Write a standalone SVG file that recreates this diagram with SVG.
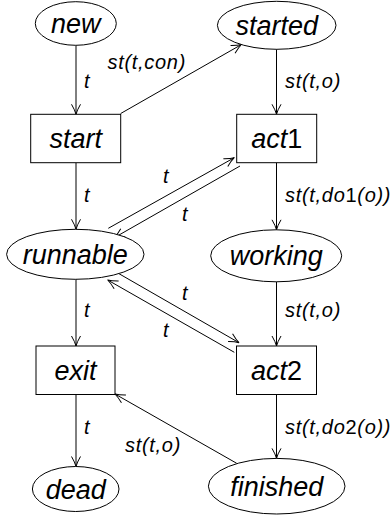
<svg xmlns="http://www.w3.org/2000/svg" width="392" height="518" viewBox="0 0 392 518">
<defs>
<marker id="arr" markerUnits="userSpaceOnUse" markerWidth="14" markerHeight="12" refX="0" refY="0" viewBox="-12 -6 14 12" orient="auto" overflow="visible">
<path d="M-10,-4.5 Q-4,-1 0,0 Q-4,1 -10,4.5" fill="none" stroke="#000" stroke-width="1"/>
</marker>
<style>
.n{fill:#fff;stroke:#000;stroke-width:1}
.nl{font-family:'Liberation Sans',Arial,sans-serif;font-style:italic;font-size:27px;text-anchor:middle;fill:#000}
.e{fill:none;stroke:#000;stroke-width:1;marker-end:url(#arr)}
.el{font-family:'Liberation Sans',Arial,sans-serif;font-style:italic;font-size:20px;letter-spacing:0.7px;fill:#000}
.up{font-style:normal}
</style>
</defs>
<rect width="392" height="518" fill="#fff"/>
<g id="connectors">
<path class="e" d="M76,45.5 V114.3"/>
<path class="e" d="M120.7,113.5 L241.5,44.5"/>
<path class="e" d="M276.5,49.3 V114.3"/>
<path class="e" d="M76,162.7 V229.3"/>
<path class="e" d="M276.5,162.7 V229.8"/>
<path class="e" d="M108.3,228.3 L234.3,157.7"/>
<path class="e" d="M240,166 L114.3,237.7"/>
<path class="e" d="M114.3,271 L239,342.7"/>
<path class="e" d="M234.3,352.3 L107.7,280"/>
<path class="e" d="M76,279.3 V346"/>
<path class="e" d="M276.5,281.8 V346"/>
<path class="e" d="M76,394.5 V466.5"/>
<path class="e" d="M276.5,394.5 V458.4"/>
<path class="e" d="M236.7,463.3 L115,394"/>
<text class="el" x="84" y="88">t</text>
<text class="el" x="107.5" y="69">st(t,con)</text>
<text class="el" x="285" y="88">st(t,o)</text>
<text class="el" x="84" y="202">t</text>
<text class="el" x="285" y="202">st(t,do<tspan class="up">1</tspan>(o))</text>
<text class="el" x="163" y="183">t</text>
<text class="el" x="182" y="220.5">t</text>
<text class="el" x="84" y="317">t</text>
<text class="el" x="285" y="317">st(t,o)</text>
<text class="el" x="182" y="300">t</text>
<text class="el" x="163" y="336.5">t</text>
<text class="el" x="84" y="434">t</text>
<text class="el" x="285" y="434">st(t,do<tspan class="up">2</tspan>(o))</text>
<text class="el" x="125" y="452">st(t,o)</text>
</g>
<g id="new"><ellipse class="n" cx="75.8" cy="23.5" rx="40.5" ry="21.8"/><text class="nl" x="75.8" y="32.5">new</text></g>
<g id="started"><ellipse class="n" cx="276.7" cy="25.3" rx="59.3" ry="24"/><text class="nl" x="276.7" y="34.5">started</text></g>
<g id="start"><rect class="n" x="30.7" y="114.3" width="90" height="48.4"/><text class="nl" x="75.7" y="147.5">start</text></g>
<g id="act1"><rect class="n" x="236.7" y="114.3" width="80" height="48.4"/><text class="nl" x="276.7" y="147.5">act<tspan class="up">1</tspan></text></g>
<g id="runnable"><ellipse class="n" cx="75.3" cy="254.3" rx="68.7" ry="25"/><text class="nl" x="75.3" y="264">runnable</text></g>
<g id="working"><ellipse class="n" cx="276.2" cy="255.8" rx="65.5" ry="26"/><text class="nl" x="276.2" y="265.3">working</text></g>
<g id="exit"><rect class="n" x="36" y="346" width="79" height="48.5"/><text class="nl" x="75.5" y="379.5">exit</text></g>
<g id="act2"><rect class="n" x="236.5" y="346" width="80" height="48.5"/><text class="nl" x="276.5" y="379.5">act<tspan class="up">2</tspan></text></g>
<g id="dead"><ellipse class="n" cx="75.7" cy="489" rx="43.3" ry="22.5"/><text class="nl" x="75.7" y="498.5">dead</text></g>
<g id="finished"><ellipse class="n" cx="276.7" cy="486.2" rx="68.3" ry="27.8"/><text class="nl" x="276.7" y="495.7">finished</text></g>
</svg>
